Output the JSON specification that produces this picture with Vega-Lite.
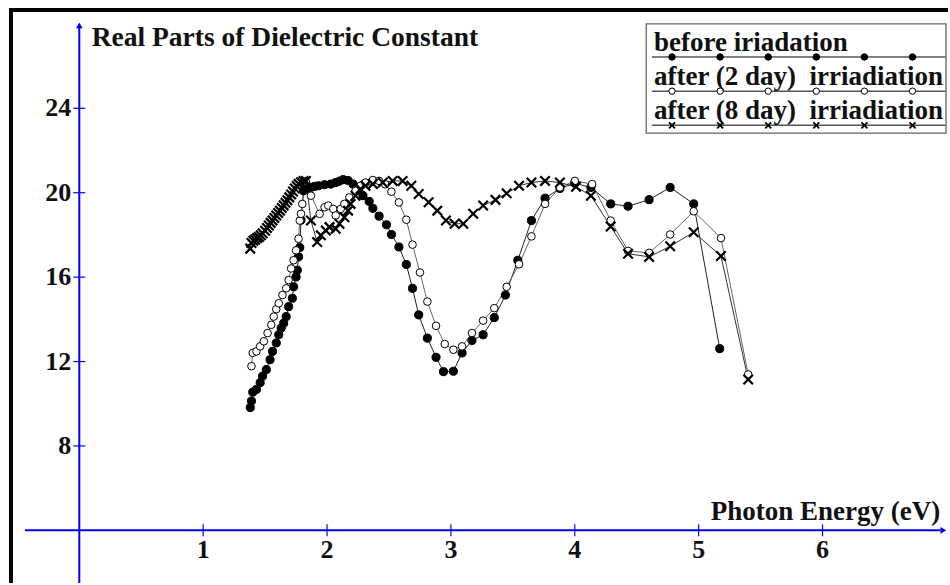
{
  "$schema": "https://vega.github.io/schema/vega-lite/v6.json",
  "width": 950,
  "height": 585,
  "autosize": {"type": "fit", "contains": "padding"},
  "padding": {"left": 7, "top": 6, "right": 0, "bottom": 0},
  "background": "white",
  "config": {
    "view": {"stroke": null},
    "axis": {"disable": true},
    "legend": {"disable": true},
    "text": {"font": "Liberation Serif", "fontWeight": "bold", "color": "#111"}
  },
  "datasets": {
    "spectra": [
      {"s":"A","e":1.38,"v":9.82},{"s":"A","e":1.39,"v":10.13},{"s":"A","e":1.40,"v":10.55},{"s":"A","e":1.43,"v":10.68},{"s":"A","e":1.46,"v":11.0},{"s":"A","e":1.48,"v":11.31},{"s":"A","e":1.51,"v":11.62},{"s":"A","e":1.54,"v":12.09},{"s":"A","e":1.56,"v":12.48},{"s":"A","e":1.59,"v":12.88},{"s":"A","e":1.61,"v":13.27},{"s":"A","e":1.63,"v":13.59},{"s":"A","e":1.65,"v":13.82},{"s":"A","e":1.67,"v":14.13},{"s":"A","e":1.69,"v":14.6},{"s":"A","e":1.72,"v":15.0},{"s":"A","e":1.73,"v":15.54},{"s":"A","e":1.75,"v":16.01},{"s":"A","e":1.76,"v":16.33},{"s":"A","e":1.77,"v":16.96},{"s":"A","e":1.78,"v":17.4},{"s":"A","e":1.79,"v":18.7},{"s":"A","e":1.81,"v":20.09},{"s":"A","e":1.84,"v":20.2},{"s":"A","e":1.87,"v":20.25},{"s":"A","e":1.9,"v":20.3},{"s":"A","e":1.93,"v":20.33},{"s":"A","e":1.98,"v":20.38},{"s":"A","e":2.03,"v":20.41},{"s":"A","e":2.07,"v":20.48},{"s":"A","e":2.1,"v":20.55},{"s":"A","e":2.13,"v":20.62},{"s":"A","e":2.17,"v":20.58},{"s":"A","e":2.21,"v":20.41},{"s":"A","e":2.25,"v":20.1},{"s":"A","e":2.29,"v":19.86},{"s":"A","e":2.34,"v":19.59},{"s":"A","e":2.37,"v":19.26},{"s":"A","e":2.42,"v":18.89},{"s":"A","e":2.48,"v":18.48},{"s":"A","e":2.52,"v":18.02},{"s":"A","e":2.58,"v":17.43},{"s":"A","e":2.64,"v":16.6},{"s":"A","e":2.69,"v":15.47},{"s":"A","e":2.74,"v":14.21},{"s":"A","e":2.81,"v":13.11},{"s":"A","e":2.88,"v":12.2},{"s":"A","e":2.94,"v":11.52},{"s":"A","e":3.02,"v":11.54},{"s":"A","e":3.09,"v":12.41},{"s":"A","e":3.17,"v":13.0},{"s":"A","e":3.26,"v":13.27},{"s":"A","e":3.35,"v":14.08},{"s":"A","e":3.44,"v":15.15},{"s":"A","e":3.54,"v":16.8},{"s":"A","e":3.65,"v":18.68},{"s":"A","e":3.76,"v":19.74},{"s":"A","e":3.88,"v":20.2},{"s":"A","e":4.0,"v":20.45},{"s":"A","e":4.13,"v":20.25},{"s":"A","e":4.29,"v":19.47},{"s":"A","e":4.43,"v":19.36},{"s":"A","e":4.6,"v":19.67},{"s":"A","e":4.77,"v":20.25},{"s":"A","e":4.96,"v":19.47},{"s":"A","e":5.17,"v":12.61},
      {"s":"B","e":1.39,"v":11.78},{"s":"B","e":1.4,"v":12.41},{"s":"B","e":1.43,"v":12.48},{"s":"B","e":1.46,"v":12.72},{"s":"B","e":1.49,"v":12.96},{"s":"B","e":1.52,"v":13.35},{"s":"B","e":1.55,"v":13.74},{"s":"B","e":1.57,"v":14.13},{"s":"B","e":1.59,"v":14.48},{"s":"B","e":1.61,"v":14.76},{"s":"B","e":1.64,"v":15.15},{"s":"B","e":1.67,"v":15.47},{"s":"B","e":1.69,"v":15.86},{"s":"B","e":1.71,"v":16.41},{"s":"B","e":1.73,"v":16.8},{"s":"B","e":1.75,"v":17.27},{"s":"B","e":1.77,"v":17.82},{"s":"B","e":1.78,"v":18.68},{"s":"B","e":1.79,"v":19.0},{"s":"B","e":1.8,"v":19.47},{"s":"B","e":1.83,"v":20.5},{"s":"B","e":1.87,"v":19.86},{"s":"B","e":1.94,"v":19.0},{"s":"B","e":1.98,"v":19.31},{"s":"B","e":2.01,"v":19.39},{"s":"B","e":2.05,"v":19.23},{"s":"B","e":2.07,"v":18.92},{"s":"B","e":2.11,"v":19.23},{"s":"B","e":2.14,"v":19.47},{"s":"B","e":2.18,"v":19.78},{"s":"B","e":2.23,"v":20.09},{"s":"B","e":2.27,"v":20.33},{"s":"B","e":2.31,"v":20.48},{"s":"B","e":2.37,"v":20.6},{"s":"B","e":2.42,"v":20.56},{"s":"B","e":2.47,"v":20.4},{"s":"B","e":2.52,"v":20.05},{"s":"B","e":2.58,"v":19.54},{"s":"B","e":2.64,"v":18.72},{"s":"B","e":2.69,"v":17.54},{"s":"B","e":2.75,"v":16.22},{"s":"B","e":2.81,"v":14.84},{"s":"B","e":2.88,"v":13.69},{"s":"B","e":2.95,"v":12.83},{"s":"B","e":3.02,"v":12.56},{"s":"B","e":3.09,"v":12.72},{"s":"B","e":3.17,"v":13.35},{"s":"B","e":3.26,"v":13.94},{"s":"B","e":3.35,"v":14.53},{"s":"B","e":3.45,"v":15.54},{"s":"B","e":3.55,"v":16.61},{"s":"B","e":3.65,"v":17.93},{"s":"B","e":3.76,"v":19.47},{"s":"B","e":3.88,"v":20.25},{"s":"B","e":4.0,"v":20.56},{"s":"B","e":4.14,"v":20.41},{"s":"B","e":4.29,"v":18.68},{"s":"B","e":4.43,"v":17.24},{"s":"B","e":4.6,"v":17.15},{"s":"B","e":4.77,"v":18.02},{"s":"B","e":4.96,"v":19.12},{"s":"B","e":5.18,"v":17.85},{"s":"B","e":5.4,"v":11.39},
      {"s":"C","e":1.38,"v":17.35},{"s":"C","e":1.39,"v":17.62},{"s":"C","e":1.405,"v":17.72},{"s":"C","e":1.42,"v":17.78},{"s":"C","e":1.435,"v":17.85},{"s":"C","e":1.45,"v":17.9},{"s":"C","e":1.465,"v":17.98},{"s":"C","e":1.48,"v":18.08},{"s":"C","e":1.5,"v":18.2},{"s":"C","e":1.515,"v":18.33},{"s":"C","e":1.53,"v":18.45},{"s":"C","e":1.545,"v":18.57},{"s":"C","e":1.56,"v":18.68},{"s":"C","e":1.575,"v":18.8},{"s":"C","e":1.59,"v":18.92},{"s":"C","e":1.605,"v":19.04},{"s":"C","e":1.62,"v":19.15},{"s":"C","e":1.635,"v":19.28},{"s":"C","e":1.65,"v":19.4},{"s":"C","e":1.665,"v":19.52},{"s":"C","e":1.68,"v":19.64},{"s":"C","e":1.695,"v":19.78},{"s":"C","e":1.71,"v":19.92},{"s":"C","e":1.725,"v":20.06},{"s":"C","e":1.74,"v":20.2},{"s":"C","e":1.755,"v":20.32},{"s":"C","e":1.77,"v":20.42},{"s":"C","e":1.79,"v":20.5},{"s":"C","e":1.81,"v":20.55},{"s":"C","e":1.83,"v":20.56},{"s":"C","e":1.87,"v":18.68},{"s":"C","e":1.92,"v":17.66},{"s":"C","e":1.95,"v":17.98},{"s":"C","e":1.99,"v":18.21},{"s":"C","e":2.02,"v":18.37},{"s":"C","e":2.07,"v":18.29},{"s":"C","e":2.1,"v":18.53},{"s":"C","e":2.14,"v":18.84},{"s":"C","e":2.17,"v":19.15},{"s":"C","e":2.19,"v":19.47},{"s":"C","e":2.23,"v":19.86},{"s":"C","e":2.27,"v":20.17},{"s":"C","e":2.31,"v":20.33},{"s":"C","e":2.37,"v":20.41},{"s":"C","e":2.45,"v":20.48},{"s":"C","e":2.53,"v":20.56},{"s":"C","e":2.61,"v":20.56},{"s":"C","e":2.68,"v":20.33},{"s":"C","e":2.74,"v":19.94},{"s":"C","e":2.82,"v":19.55},{"s":"C","e":2.89,"v":19.15},{"s":"C","e":2.96,"v":18.68},{"s":"C","e":3.03,"v":18.53},{"s":"C","e":3.1,"v":18.53},{"s":"C","e":3.18,"v":19.0},{"s":"C","e":3.26,"v":19.39},{"s":"C","e":3.36,"v":19.66},{"s":"C","e":3.45,"v":19.97},{"s":"C","e":3.55,"v":20.33},{"s":"C","e":3.65,"v":20.48},{"s":"C","e":3.76,"v":20.56},{"s":"C","e":3.88,"v":20.48},{"s":"C","e":4.01,"v":20.28},{"s":"C","e":4.13,"v":19.86},{"s":"C","e":4.29,"v":18.4},{"s":"C","e":4.43,"v":17.11},{"s":"C","e":4.6,"v":16.96},{"s":"C","e":4.77,"v":17.46},{"s":"C","e":4.96,"v":18.13},{"s":"C","e":5.18,"v":17.0},{"s":"C","e":5.4,"v":11.15}
    ],
    "yticks": [{"t":8},{"t":12},{"t":16},{"t":20},{"t":24}],
    "xticks": [{"t":1},{"t":2},{"t":3},{"t":4},{"t":5},{"t":6}],
    "legend": [
      {"s":"A","label":"before iriadation","k":1},{"s":"A","label":"before iriadation","k":2},{"s":"A","label":"before iriadation","k":3},{"s":"A","label":"before iriadation","k":4},{"s":"A","label":"before iriadation","k":5},{"s":"A","label":"before iriadation","k":6},
      {"s":"B","label":"after (2 day)\u00a0 irriadiation","k":1},{"s":"B","label":"after (2 day)\u00a0 irriadiation","k":2},{"s":"B","label":"after (2 day)\u00a0 irriadiation","k":3},{"s":"B","label":"after (2 day)\u00a0 irriadiation","k":4},{"s":"B","label":"after (2 day)\u00a0 irriadiation","k":5},{"s":"B","label":"after (2 day)\u00a0 irriadiation","k":6},
      {"s":"C","label":"after (8 day)\u00a0 irriadiation","k":1},{"s":"C","label":"after (8 day)\u00a0 irriadiation","k":2},{"s":"C","label":"after (8 day)\u00a0 irriadiation","k":3},{"s":"C","label":"after (8 day)\u00a0 irriadiation","k":4},{"s":"C","label":"after (8 day)\u00a0 irriadiation","k":5},{"s":"C","label":"after (8 day)\u00a0 irriadiation","k":6}
    ]
  },
  "resolve": {"scale": {"x": "independent", "y": "independent"}},
  "layer": [
    {
      "layer": [
        {
          "data": {"values": [{}]},
          "mark": {"type": "rule", "stroke": "black", "strokeWidth": 4},
          "encoding": {
            "x": {"datum": -0.5514, "type": "quantitative", "scale": {"domain": [-0.5675, 7.0129], "nice": false, "zero": false}},
            "y": {"datum": 28.753, "type": "quantitative", "scale": {"domain": [1.5059, 28.753], "nice": false, "zero": false}},
            "y2": {"datum": 1.5059}
          }
        },
        {
          "data": {"values": [{}]},
          "mark": {"type": "rule", "stroke": "black", "strokeWidth": 4},
          "encoding": {
            "x": {"datum": -0.5675, "type": "quantitative", "scale": {"domain": [-0.5675, 7.0129], "nice": false, "zero": false}},
            "x2": {"datum": 7.0129},
            "y": {"datum": 28.66, "type": "quantitative", "scale": {"domain": [1.5059, 28.753], "nice": false, "zero": false}}
          }
        },
        {
          "data": {"values": [{}]},
          "mark": {"type": "rule", "stroke": "#0000ff", "strokeWidth": 2},
          "encoding": {
            "x": {"datum": 0, "type": "quantitative", "scale": {"domain": [-0.5675, 7.0129], "nice": false, "zero": false}},
            "y": {"datum": 1.5059, "type": "quantitative", "scale": {"domain": [1.5059, 28.753], "nice": false, "zero": false}},
            "y2": {"datum": 27.85}
          }
        },
        {
          "data": {"values": [{}]},
          "mark": {"type": "rule", "stroke": "#0000ff", "strokeWidth": 2},
          "encoding": {
            "x": {"datum": -0.439, "type": "quantitative", "scale": {"domain": [-0.5675, 7.0129], "nice": false, "zero": false}},
            "x2": {"datum": 6.95},
            "y": {"datum": 4, "type": "quantitative", "scale": {"domain": [1.5059, 28.753], "nice": false, "zero": false}}
          }
        },
        {
          "data": {"values": [{}]},
          "mark": {"type": "point", "shape": "triangle-up", "filled": true, "fill": "#0000ff", "size": 45, "opacity": 1},
          "encoding": {
            "x": {"datum": 0, "type": "quantitative", "scale": {"domain": [-0.5675, 7.0129], "nice": false, "zero": false}},
            "y": {"datum": 27.93, "type": "quantitative", "scale": {"domain": [1.5059, 28.753], "nice": false, "zero": false}}
          }
        },
        {
          "data": {"values": [{}]},
          "mark": {"type": "point", "shape": "triangle-right", "filled": true, "fill": "#0000ff", "size": 45, "opacity": 1},
          "encoding": {
            "x": {"datum": 6.975, "type": "quantitative", "scale": {"domain": [-0.5675, 7.0129], "nice": false, "zero": false}},
            "y": {"datum": 4, "type": "quantitative", "scale": {"domain": [1.5059, 28.753], "nice": false, "zero": false}}
          }
        },
        {
          "data": {"name": "yticks"},
          "mark": {"type": "tick", "orient": "horizontal", "size": 12, "thickness": 1.2, "color": "#0000ff", "opacity": 1},
          "encoding": {
            "x": {"datum": 0, "type": "quantitative", "scale": {"domain": [-0.5675, 7.0129], "nice": false, "zero": false}},
            "y": {"field": "t", "type": "quantitative", "scale": {"domain": [1.5059, 28.753], "nice": false, "zero": false}}
          }
        },
        {
          "data": {"name": "yticks"},
          "mark": {"type": "text", "align": "right", "baseline": "alphabetic", "dx": -8, "dy": 8, "fontSize": 26},
          "encoding": {
            "x": {"datum": 0, "type": "quantitative", "scale": {"domain": [-0.5675, 7.0129], "nice": false, "zero": false}},
            "y": {"field": "t", "type": "quantitative", "scale": {"domain": [1.5059, 28.753], "nice": false, "zero": false}},
            "text": {"field": "t", "type": "quantitative"}
          }
        },
        {
          "data": {"name": "xticks"},
          "mark": {"type": "tick", "orient": "vertical", "size": 12, "thickness": 1.2, "color": "#0000ff", "opacity": 1},
          "encoding": {
            "x": {"field": "t", "type": "quantitative", "scale": {"domain": [-0.5675, 7.0129], "nice": false, "zero": false}},
            "y": {"datum": 4, "type": "quantitative", "scale": {"domain": [1.5059, 28.753], "nice": false, "zero": false}}
          }
        },
        {
          "data": {"name": "xticks"},
          "mark": {"type": "text", "align": "center", "baseline": "alphabetic", "dy": 28, "fontSize": 26},
          "encoding": {
            "x": {"field": "t", "type": "quantitative", "scale": {"domain": [-0.5675, 7.0129], "nice": false, "zero": false}},
            "y": {"datum": 4, "type": "quantitative", "scale": {"domain": [1.5059, 28.753], "nice": false, "zero": false}},
            "text": {"field": "t", "type": "quantitative"}
          }
        },
        {
          "data": {"values": [{}]},
          "mark": {"type": "text", "align": "left", "baseline": "alphabetic", "fontSize": 27.5, "text": "Real Parts of Dielectric Constant"},
          "encoding": {
            "x": {"datum": 0.1, "type": "quantitative", "scale": {"domain": [-0.5675, 7.0129], "nice": false, "zero": false}},
            "y": {"datum": 26.965, "type": "quantitative", "scale": {"domain": [1.5059, 28.753], "nice": false, "zero": false}}
          }
        },
        {
          "data": {"values": [{}]},
          "mark": {"type": "text", "align": "right", "baseline": "alphabetic", "fontSize": 27, "text": "Photon Energy (eV)"},
          "encoding": {
            "x": {"datum": 6.95, "type": "quantitative", "scale": {"domain": [-0.5675, 7.0129], "nice": false, "zero": false}},
            "y": {"datum": 4.47, "type": "quantitative", "scale": {"domain": [1.5059, 28.753], "nice": false, "zero": false}}
          }
        },
        {
          "data": {"values": [{}]},
          "mark": {"type": "rect", "fill": "white", "stroke": "#666666", "strokeWidth": 1.3},
          "encoding": {
            "x": {"datum": 4.577, "type": "quantitative", "scale": {"domain": [-0.5675, 7.0129], "nice": false, "zero": false}},
            "x2": {"datum": 6.997},
            "y": {"datum": 28.0, "type": "quantitative", "scale": {"domain": [1.5059, 28.753], "nice": false, "zero": false}},
            "y2": {"datum": 22.82}
          }
        },
        {
          "data": {"name": "spectra"},
          "mark": {"type": "line", "strokeWidth": 1},
          "encoding": {
            "x": {"field": "e", "type": "quantitative", "scale": {"domain": [-0.5675, 7.0129], "nice": false, "zero": false}},
            "y": {"field": "v", "type": "quantitative", "scale": {"domain": [1.5059, 28.753], "nice": false, "zero": false}},
            "color": {"field": "s", "type": "nominal", "scale": {"domain": ["A", "B", "C"], "range": ["#222222", "#666666", "#333333"]}, "legend": null}
          }
        },
        {
          "data": {"name": "spectra"},
          "transform": [{"filter": "datum.s == 'A'"}],
          "mark": {"type": "point", "shape": "circle", "filled": true, "fill": "black", "stroke": "black", "strokeWidth": 1, "size": 66, "opacity": 1},
          "encoding": {
            "x": {"field": "e", "type": "quantitative", "scale": {"domain": [-0.5675, 7.0129], "nice": false, "zero": false}},
            "y": {"field": "v", "type": "quantitative", "scale": {"domain": [1.5059, 28.753], "nice": false, "zero": false}}
          }
        },
        {
          "data": {"name": "spectra"},
          "transform": [{"filter": "datum.s == 'B'"}],
          "mark": {"type": "point", "shape": "circle", "filled": true, "fill": "white", "stroke": "black", "strokeWidth": 1, "size": 58, "opacity": 1},
          "encoding": {
            "x": {"field": "e", "type": "quantitative", "scale": {"domain": [-0.5675, 7.0129], "nice": false, "zero": false}},
            "y": {"field": "v", "type": "quantitative", "scale": {"domain": [1.5059, 28.753], "nice": false, "zero": false}}
          }
        },
        {
          "data": {"name": "spectra"},
          "transform": [{"filter": "datum.s == 'C'"}],
          "mark": {"type": "point", "shape": "M-1,-1L1,1M-1,1L1,-1", "filled": false, "stroke": "black", "strokeWidth": 2.2, "size": 90, "opacity": 1},
          "encoding": {
            "x": {"field": "e", "type": "quantitative", "scale": {"domain": [-0.5675, 7.0129], "nice": false, "zero": false}},
            "y": {"field": "v", "type": "quantitative", "scale": {"domain": [1.5059, 28.753], "nice": false, "zero": false}}
          }
        }
      ]
    },
    {
      "data": {"name": "legend"},
      "layer": [
        {
          "transform": [{"filter": "datum.k == 1"}],
          "mark": {"type": "rule", "stroke": "#555555", "strokeWidth": 1.5},
          "encoding": {
            "x": {"datum": 0.583, "type": "quantitative", "scale": {"domain": [1, 6], "range": [663, 903.5], "nice": false, "zero": false}},
            "x2": {"datum": 6.69},
            "y": {"field": "s", "type": "nominal", "scale": {"type": "point", "domain": ["A", "B", "C"], "range": [49, 117.3], "padding": 0}}
          }
        },
        {
          "transform": [{"filter": "datum.k == 1"}],
          "mark": {"type": "text", "align": "left", "baseline": "alphabetic", "dy": -6, "fontSize": 27},
          "encoding": {
            "x": {"datum": 0.625, "type": "quantitative", "scale": {"domain": [1, 6], "range": [663, 903.5], "nice": false, "zero": false}},
            "y": {"field": "s", "type": "nominal", "scale": {"type": "point", "domain": ["A", "B", "C"], "range": [49, 117.3], "padding": 0}},
            "text": {"field": "label", "type": "nominal"}
          }
        },
        {
          "transform": [{"filter": "datum.s == 'A'"}],
          "mark": {"type": "point", "shape": "circle", "filled": true, "fill": "black", "stroke": "black", "strokeWidth": 1, "size": 42, "opacity": 1},
          "encoding": {
            "x": {"field": "k", "type": "quantitative", "scale": {"domain": [1, 6], "range": [663, 903.5], "nice": false, "zero": false}},
            "y": {"field": "s", "type": "nominal", "scale": {"type": "point", "domain": ["A", "B", "C"], "range": [49, 117.3], "padding": 0}}
          }
        },
        {
          "transform": [{"filter": "datum.s == 'B'"}],
          "mark": {"type": "point", "shape": "circle", "filled": true, "fill": "white", "stroke": "black", "strokeWidth": 1, "size": 40, "opacity": 1},
          "encoding": {
            "x": {"field": "k", "type": "quantitative", "scale": {"domain": [1, 6], "range": [663, 903.5], "nice": false, "zero": false}},
            "y": {"field": "s", "type": "nominal", "scale": {"type": "point", "domain": ["A", "B", "C"], "range": [49, 117.3], "padding": 0}}
          }
        },
        {
          "transform": [{"filter": "datum.s == 'C'"}],
          "mark": {"type": "point", "shape": "M-1,-1L1,1M-1,1L1,-1", "filled": false, "stroke": "black", "strokeWidth": 1.8, "size": 36, "opacity": 1},
          "encoding": {
            "x": {"field": "k", "type": "quantitative", "scale": {"domain": [1, 6], "range": [663, 903.5], "nice": false, "zero": false}},
            "y": {"field": "s", "type": "nominal", "scale": {"type": "point", "domain": ["A", "B", "C"], "range": [49, 117.3], "padding": 0}}
          }
        }
      ]
    }
  ]
}
